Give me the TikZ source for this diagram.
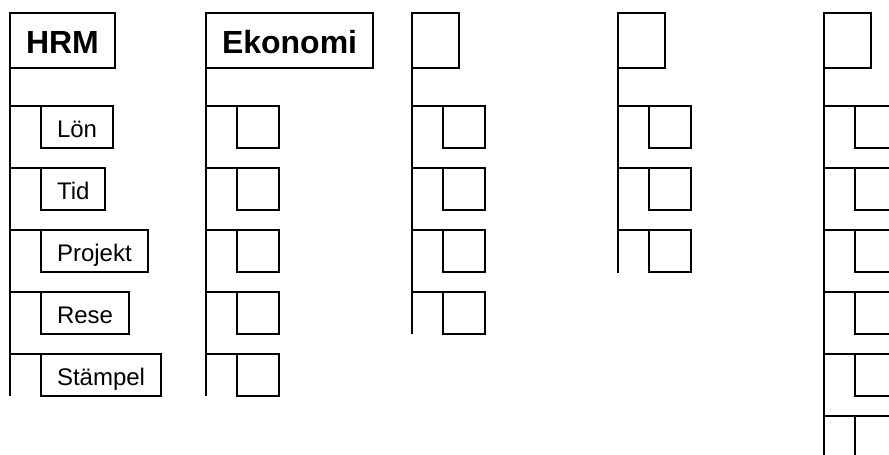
\documentclass[tikz,border=0pt]{standalone}
\usepackage{fontspec}
\setmainfont{Liberation Sans}
\tikzset{
  orgline/.style={line width=2pt, line cap=rect},
  headbox/.style={draw, rectangle, line width=2pt, outer sep=0pt, anchor=north west,
    minimum height=55pt, inner xsep=16pt, inner ysep=0pt,
    text height=25pt, text depth=0pt, font=\fontsize{32}{36}\selectfont\bfseries},
  blankhead/.style={headbox, minimum width=47pt},
  unitbox/.style={draw, rectangle, line width=2pt, outer sep=0pt, anchor=north west,
    minimum height=42pt, inner xsep=16pt, inner ysep=0pt,
    text height=20pt, text depth=0pt, font=\fontsize{24}{28}\selectfont},
  blankunit/.style={unitbox, minimum width=42pt}
}
\begin{document}
\begin{tikzpicture}[x=1pt, y=-1pt]
    \clip (0,0) rectangle (889,455);
    \fill[white] (0,0) rectangle (889,455);

    % HRM
    \node[headbox] (hrm) at (10,13) {HRM};
    \coordinate (hrm-end) at (10,395);
    \draw[orgline] (hrm.south west) -- (hrm-end);
    \foreach \name/\label [count=\i from 0] in {lon/Lön, tid/Tid, projekt/Projekt, rese/Rese, stampel/Stämpel} {
        \node[unitbox] (hrm-\name) at (41,106+62*\i) {\label};
        \draw[orgline] (hrm.south west |- hrm-\name.north west) -- (hrm-\name.north west);
    }

    % Ekonomi
    \node[headbox] (eko) at (206,13) {Ekonomi};
    \coordinate (eko-end) at (206,395);
    \draw[orgline] (eko.south west) -- (eko-end);
    \foreach \i in {1,...,5} {
        \node[blankunit] (eko-\i) at (237,44+62*\i) {};
        \draw[orgline] (eko.south west |- eko-\i.north west) -- (eko-\i.north west);
    }

    % Tomma kolumner
    \foreach \col/\x/\n/\ende in {c/412/4/333, d/618/3/272, e/824/6/470} {
        \node[blankhead] (\col) at (\x,13) {};
        \coordinate (\col-end) at (\x,\ende);
        \draw[orgline] (\col.south west) -- (\col-end);
        \foreach \i in {1,...,\n} {
            \node[blankunit] (\col-\i) at (\x+31,44+62*\i) {};
            \draw[orgline] (\col.south west |- \col-\i.north west) -- (\col-\i.north west);
        }
    }
\end{tikzpicture}
\end{document}
